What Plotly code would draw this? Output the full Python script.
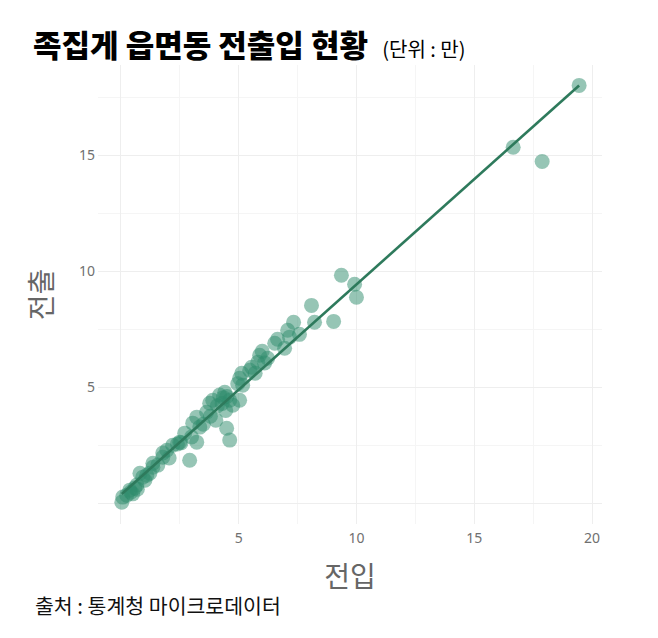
import numpy as np
import plotly.graph_objects as go

# 전입 (x) / 전출 (y), 단위: 만
move_in = [19.45, 16.65, 17.88, 9.36, 9.92, 10.0, 8.09, 9.03, 8.22, 7.33,
           7.08, 7.58, 7.16, 6.65, 6.95, 6.53, 5.89, 5.81, 6.23, 5.55,
           5.13, 5.47, 5.04, 5.17, 4.96, 4.41, 4.19, 4.35, 3.90, 4.62,
           5.04, 3.77, 3.64, 4.49, 4.62, 3.22, 3.05, 3.35, 2.71, 2.50,
           3.22, 2.92, 2.20, 1.95, 1.78, 1.36, 1.78, 1.36, 0.93, 0.68,
           0.38, 0.08, 0.04, 0.81, 1.23, 4.75, 4.45, 4.03, 0.25, 0.42,
           0.59, 1.02, 1.10, 1.57, 2.40, 2.55, 3.50, 3.80, 4.10, 4.30,
           6.10, 5.70, 0.50, 0.70, 2.05, 3.00, 4.50, 6.00]
move_out = [18.02, 15.35, 14.74, 9.83, 9.44, 8.88, 8.53, 7.84, 7.80, 7.80,
            7.46, 7.28, 7.16, 7.07, 6.68, 6.90, 6.38, 6.08, 6.25, 5.86,
            5.60, 5.73, 5.39, 5.09, 5.15, 4.78, 4.66, 4.55, 4.44, 4.44,
            4.44, 4.31, 3.92, 3.23, 2.72, 3.71, 3.45, 3.28, 3.02, 2.63,
            2.63, 1.85, 2.50, 2.28, 2.16, 1.72, 1.98, 1.55, 1.12, 0.78,
            0.56, 0.26, 0.04, 1.29, 1.29, 4.22, 4.00, 3.58, 0.34, 0.47,
            0.65, 0.99, 1.20, 1.64, 2.55, 2.60, 3.40, 3.75, 4.20, 4.30,
            6.05, 5.60, 0.40, 0.60, 1.95, 2.85, 4.60, 6.55]

tick_vals = [0, 5, 10, 15, 20]
tick_text = ["", "5", "10", "15", "20"]

x = np.array(move_in)
y = np.array(move_out)
slope, intercept = np.polyfit(x, y, 1)
xl = np.array([x.min(), x.max()])
yl = slope * xl + intercept

fig = go.Figure()
fig.add_trace(go.Scatter(
    x=move_in, y=move_out, mode="markers",
    marker=dict(size=15, color="rgba(46,139,108,0.5)", line=dict(width=0)),
    hoverinfo="skip", showlegend=False))
fig.add_trace(go.Scatter(
    x=xl, y=yl, mode="lines",
    line=dict(color="#2E7A5C", width=2.6),
    hoverinfo="skip", showlegend=False))

W, H = 650, 630
L, R, T, B = 90, 56, 57, 114
pw, ph = W - L - R, H - T - B

grid = "#EEEEEE"
tickfont = dict(family="Noto Sans", size=14, color="#707070")
fig.update_layout(
    width=W, height=H,
    margin=dict(l=L, r=R, t=T, b=B, autoexpand=False),
    paper_bgcolor="white", plot_bgcolor="white",
    font=dict(family="Noto Sans CJK KR"),
    title=dict(
        text="족집게 읍면동 전출입 현황  <span style='font-size:20px;font-weight:400'>(단위 : 만)</span>",
        x=25/W, xanchor="left", xref="container",
        y=1-38/H, yanchor="middle", yref="container",
        font=dict(family="Noto Sans CJK KR", size=31, color="#000000", weight=900)),
    xaxis=dict(
        range=[-0.97, 20.42], tickvals=tick_vals, ticktext=tick_text,
        showgrid=True, gridcolor=grid, gridwidth=1, zeroline=False,
        minor=dict(dtick=2.5, tick0=0, showgrid=True, gridcolor="#F5F5F5", gridwidth=0.8),
        ticks="", tickfont=tickfont, showline=False, automargin=False,
        ticklabelstandoff=4,
        title=dict(text="전입", font=dict(family="Noto Sans CJK KR", size=28, color="#666666"), standoff=21)),
    yaxis=dict(
        range=[-0.9, 18.9], tickvals=tick_vals, ticktext=tick_text,
        showgrid=True, gridcolor=grid, gridwidth=1, zeroline=False,
        minor=dict(dtick=2.5, tick0=0, showgrid=True, gridcolor="#F5F5F5", gridwidth=0.8),
        ticks="", tickfont=tickfont, showline=False, automargin=False,
        ticklabelstandoff=2,
        title=dict(text="전출", font=dict(family="Noto Sans CJK KR", size=28, color="#666666"), standoff=18)),
)
fig.add_annotation(
    text="출처 : 통계청 마이크로데이터", xref="paper", yref="paper",
    x=(25 - L) / pw, xanchor="left", y=(T + ph - (605 - 8)) / ph, yanchor="middle",
    showarrow=False, font=dict(family="Noto Sans CJK KR", size=20.5, color="#111111", weight=400))

fig.write_html("out.html")
